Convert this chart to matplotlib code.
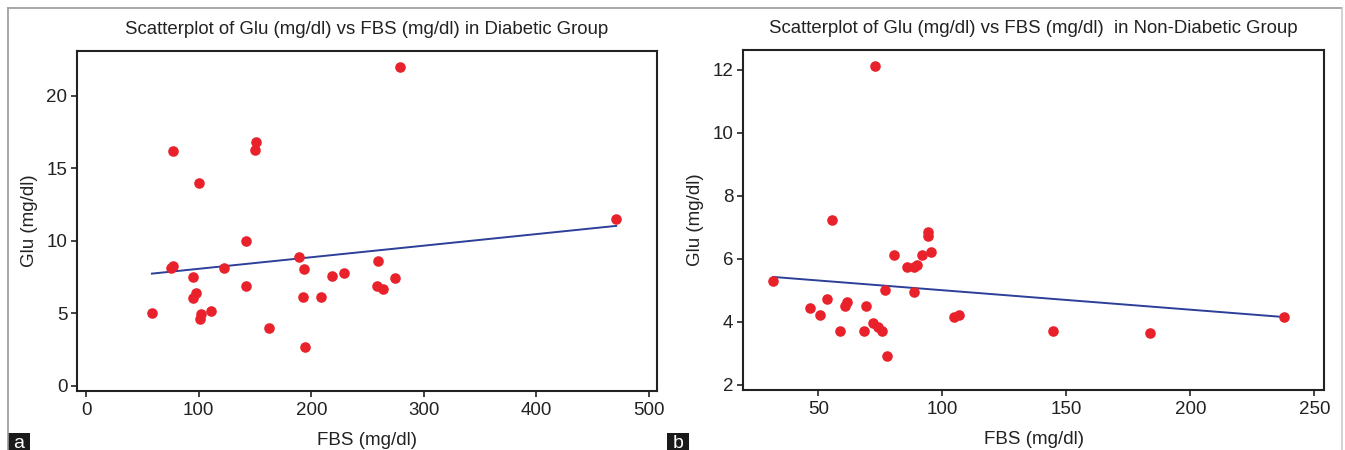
import numpy as np
import matplotlib.pyplot as plt
from matplotlib.patches import Rectangle
from matplotlib.lines import Line2D

# diabetic group
fbs_diab = [58.5, 76.8, 76.8, 75.6, 94.6, 94.6, 98, 100, 101, 102, 110.6, 122.4, 142.5, 142.5,
            150, 151, 162.6, 189, 192.7, 193.4, 194.6, 208.6, 218, 228.8, 258.4, 259.5, 264,
            274.7, 278.5, 470.8]
glu_diab = [5.01, 16.2, 8.3, 8.1, 7.5, 6.09, 6.41, 14.0, 4.6, 4.94, 5.17, 8.14, 9.98, 6.92,
            16.25, 16.83, 4.0, 8.9, 6.16, 8.05, 2.69, 6.16, 7.59, 7.82, 6.92, 8.64, 6.67,
            7.43, 22.0, 11.54]

# non-diabetic group
fbs_non = [31.8, 46.7, 50.5, 53.5, 55.4, 58.9, 60.8, 61.6, 68.4, 69.4, 71.9, 72.9, 74.0, 75.7,
           76.7, 77.8, 80.4, 85.8, 88.7, 88.7, 89.8, 91.7, 94.4, 94.4, 95.5, 104.5, 106.6,
           144.6, 183.7, 237.7]
glu_non = [5.31, 4.43, 4.21, 4.74, 7.22, 3.71, 4.52, 4.63, 3.71, 4.52, 3.96, 12.13, 3.83, 3.71,
           5.02, 2.91, 6.12, 5.74, 5.74, 4.94, 5.82, 6.12, 6.84, 6.73, 6.23, 4.15, 4.22,
           3.71, 3.64, 4.15]

plt.rcParams['font.family'] = ['Liberation Sans', 'DejaVu Sans']

W, H = 1345, 450
fig = plt.figure(figsize=(W / 100, H / 100), dpi=100)

# outer frame of the figure (grey)
fig.add_artist(Line2D([8 / W, 1342 / W], [1 - 8 / H, 1 - 8 / H], color='#999999', lw=1.2))
fig.add_artist(Line2D([8 / W, 8 / W], [0, 1 - 8 / H], color='#999999', lw=1.2))
fig.add_artist(Line2D([1342 / W, 1342 / W], [0, 1 - 8 / H], color='#cccccc', lw=1.2))

RED = '#e8212a'
BLUE = '#2d3f99'


def panel(rect, x, y, title, xlim, ylim, xticks, yticks, letter, letter_x):
    ax = fig.add_axes(rect)
    ax.scatter(x, y, s=58, color=RED, zorder=3, linewidths=0)
    b, a = np.polyfit(x, y, 1)
    xx = np.array([min(x), max(x)])
    ax.plot(xx, a + b * xx, color=BLUE, lw=1.4, zorder=2)
    ax.set_xlim(*xlim)
    ax.set_ylim(*ylim)
    ax.set_xticks(xticks)
    ax.set_yticks(yticks)
    ax.tick_params(direction='out', length=4, width=1.2, labelsize=13.5, pad=3, colors='#222222')
    ax.tick_params(axis='x', pad=4)
    for s in ax.spines.values():
        s.set_linewidth(1.5)
        s.set_color('#222222')
    ax.set_title(title, fontsize=13.4, pad=12, color='#222222')
    ax.set_xlabel('FBS (mg/dl)', fontsize=13.5, labelpad=9, color='#222222')
    ax.set_ylabel('Glu (mg/dl)', fontsize=13.5, labelpad=6, color='#222222')
    # panel letter in black box
    fig.add_artist(Rectangle((letter_x / W, 0), 22 / W, 17 / H, transform=fig.transFigure,
                             facecolor='#1a1a1a', edgecolor='none'))
    fig.text((letter_x + 11) / W, 7 / H, letter, color='white', fontsize=14,
             ha='center', va='center')
    return ax


panel([77 / W, 59 / H, 580 / W, 340 / H], fbs_diab, glu_diab,
      'Scatterplot of Glu (mg/dl) vs FBS (mg/dl) in Diabetic Group',
      (-8, 507), (-0.35, 23.1), [0, 100, 200, 300, 400, 500], [0, 5, 10, 15, 20], 'a', 8)

panel([743 / W, 60 / H, 581 / W, 340 / H], fbs_non, glu_non,
      'Scatterplot of Glu (mg/dl) vs FBS (mg/dl)  in Non-Diabetic Group',
      (19.6, 253.9), (1.84, 12.63), [50, 100, 150, 200, 250], [2, 4, 6, 8, 10, 12], 'b', 667)

fig.savefig('out.png', dpi=100)
